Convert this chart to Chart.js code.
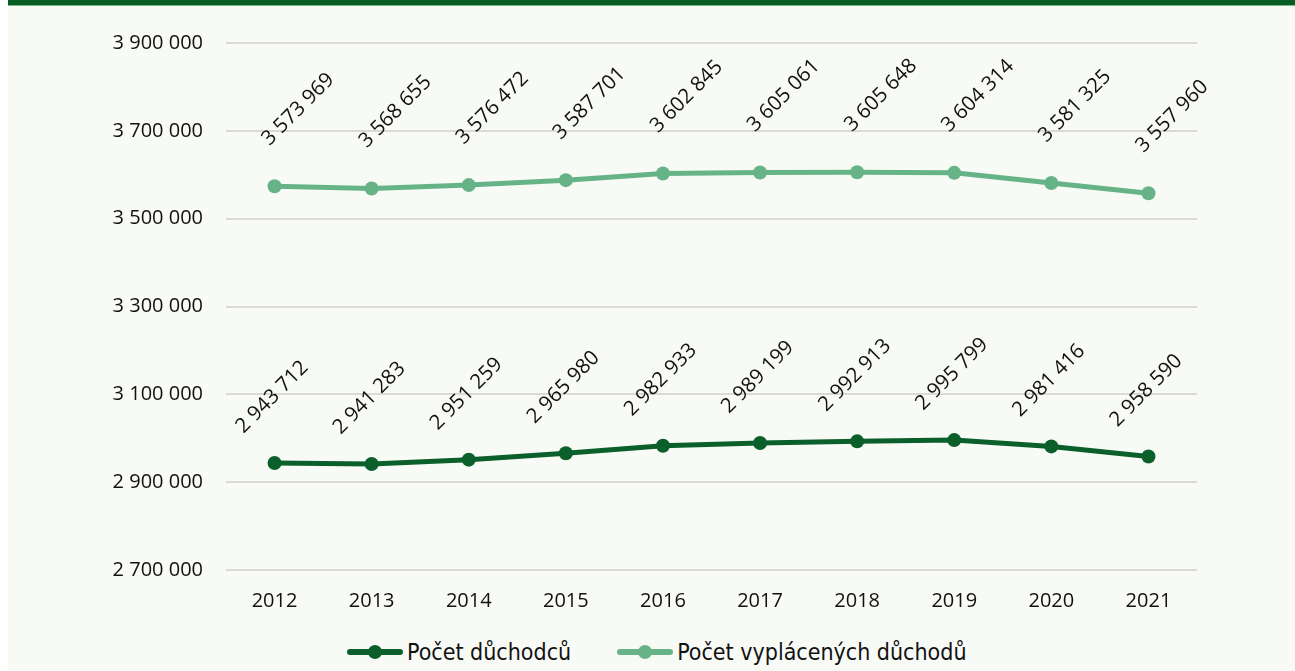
<!DOCTYPE html>
<html>
<head>
<meta charset="utf-8">
<script src="https://cdn.jsdelivr.net/npm/chart.js@4"></script>
<style>
  html, body { margin: 0; padding: 0; background: #fff; }
  #page { position: absolute; left: 8px; top: 0; width: 1287px; height: 671px; background: #f8faf6; }
  #topbar { position: absolute; left: 8px; top: 0; width: 1287px; height: 5px; background: #075d22; border-bottom: 1px solid #7ab98a; }
  #wrap { position: absolute; left: 0; top: 0; width: 1295px; height: 625px; }
  #legend { position: absolute; left: 347px; top: 639px; display: flex; align-items: center;
    font-family: "DejaVu Sans Condensed", "DejaVu Sans", sans-serif; font-stretch: condensed;
    font-size: 23px; color: #111; white-space: nowrap; }
  .item { display: flex; align-items: center; }
  .item + .item { margin-left: 46px; }
  .sym { position: relative; width: 56px; height: 16px; margin-right: 4px; }
  .sym .ln { position: absolute; left: 0; right: 0; top: 5px; height: 6px; border-radius: 3px; }
  .sym .dot { position: absolute; left: 21px; top: 1px; width: 14px; height: 14px; border-radius: 50%; }
</style>
</head>
<body>
<div id="page"></div>
<div id="topbar"></div>
<div id="wrap"><canvas id="chart"></canvas></div>
<div id="legend"></div>
<script>
const $ = (id) => document.getElementById(id);

const years = ["2012", "2013", "2014", "2015", "2016", "2017", "2018", "2019", "2020", "2021"];
const pocetDuchodcu = [2943712, 2941283, 2951259, 2965980, 2982933, 2989199, 2992913, 2995799, 2981416, 2958590];
const pocetVyplacenych = [3573969, 3568655, 3576472, 3587701, 3602845, 3605061, 3605648, 3604314, 3581325, 3557960];
const yTicks = [2700000, 2900000, 3100000, 3300000, 3500000, 3700000, 3900000];

const COLORS = {
  dark: "#0a5f2b",
  light: "#67b388",
  grid: "#d9d9d9",
  text: "#111111",
};

const fmt = (v) => String(v).replace(/\B(?=(\d{3})+(?!\d))/g, " ");

// rotated value labels above each point
const valueLabels = {
  id: "valueLabels",
  afterDatasetsDraw(chart) {
    const ctx = chart.ctx;
    chart.data.datasets.forEach((ds, i) => {
      const meta = chart.getDatasetMeta(i);
      const off = ds.labelOffset;
      ctx.save();
      ctx.font = '20.5px "Open Sans"';
      ctx.fillStyle = COLORS.text;
      ctx.textAlign = "left";
      ctx.textBaseline = "alphabetic";
      meta.data.forEach((pt, j) => {
        ctx.save();
        ctx.translate(pt.x + off[0], pt.y + off[1]);
        ctx.rotate(-Math.PI / 4);
        ctx.fillText(fmt(ds.data[j]), 0, 0);
        ctx.restore();
      });
      ctx.restore();
    });
  },
};

const chart = new Chart($("chart"), {
  type: "line",
  data: {
    labels: years,
    datasets: [
      {
        label: "Počet důchodců",
        data: pocetDuchodcu,
        borderColor: COLORS.dark,
        backgroundColor: COLORS.dark,
        borderWidth: 5, pointRadius: 7, pointHoverRadius: 7,
        pointBorderWidth: 0, tension: 0,
        labelOffset: [-31, -29],
      },
      {
        label: "Počet vyplácených důchodů",
        data: pocetVyplacenych,
        borderColor: COLORS.light,
        backgroundColor: COLORS.light,
        borderWidth: 5, pointRadius: 7, pointHoverRadius: 7,
        pointBorderWidth: 0, tension: 0,
        labelOffset: [-5, -40],
      },
    ],
  },
  options: {
    responsive: true, maintainAspectRatio: false, animation: false,
    layout: { padding: { top: 43, right: 98, bottom: 10, left: 0 } },
    scales: {
      x: {
        offset: true,
        grid: { display: false, offset: true },
        border: { display: false },
        ticks: { color: COLORS.text, font: { family: "Open Sans", size: 20 }, padding: 11, maxRotation: 0 },
        afterFit: (s) => { s.height = 45; },
      },
      y: {
        min: 2700000, max: 3900000,
        afterBuildTicks: (s) => { s.ticks = yTicks.map((v) => ({ value: v })); },
        grid: { color: COLORS.grid, lineWidth: 2, drawTicks: false },
        border: { display: false },
        ticks: { color: COLORS.text, font: { family: "Open Sans", size: 20 }, padding: 23, callback: (v) => fmt(v) },
        afterFit: (s) => { s.width = 226; },
      },
    },
    plugins: {
      legend: { display: false },
      tooltip: { enabled: false },
    },
  },
  plugins: [valueLabels],
});

// html legend built from the datasets
for (const ds of chart.data.datasets) {
  const item = document.createElement("div");
  item.className = "item";
  item.innerHTML = `<span class="sym"><span class="ln" style="background:${ds.borderColor}"></span>` +
    `<span class="dot" style="background:${ds.borderColor}"></span></span><span>${ds.label}</span>`;
  $("legend").appendChild(item);
}
</script>
</body>
</html>
